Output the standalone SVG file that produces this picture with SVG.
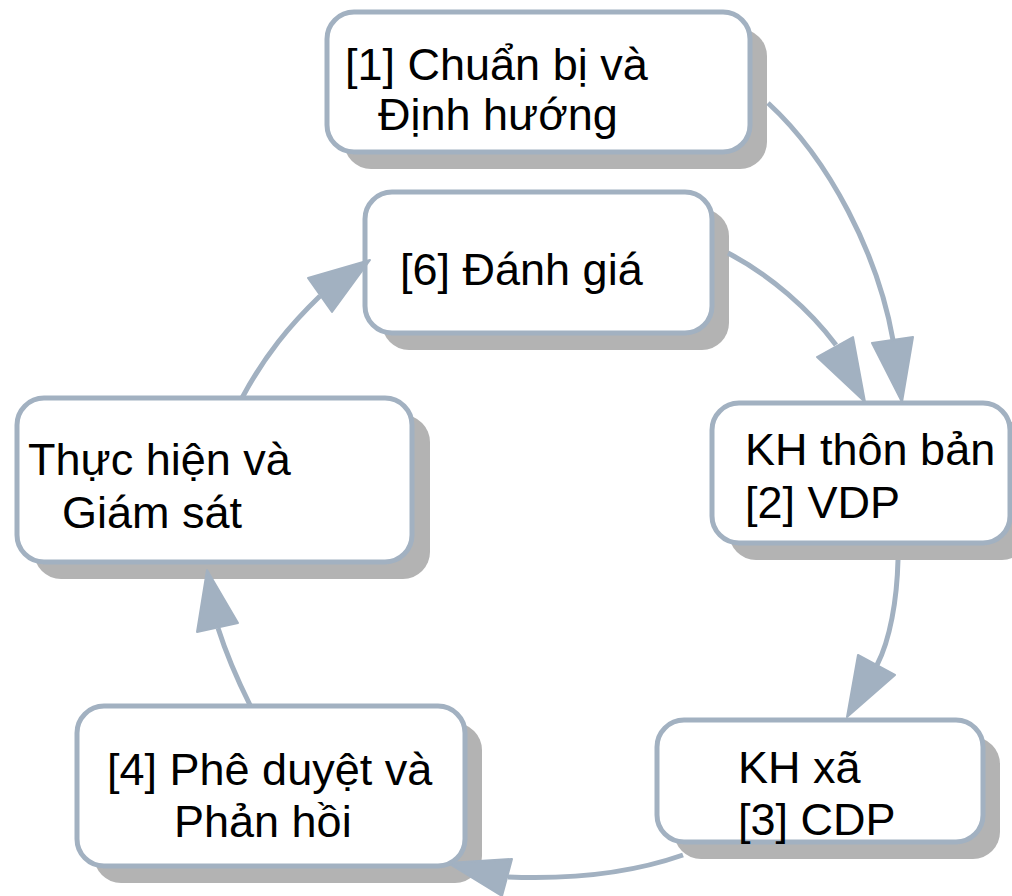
<svg xmlns="http://www.w3.org/2000/svg" width="1012" height="896" viewBox="0 0 1012 896">
<style>
.sh{fill:#b3b3b3;stroke:none}
.bx{fill:#ffffff;stroke:#a2b1c1;stroke-width:5}
.t{font-family:"Liberation Sans",Arial,sans-serif;font-size:45px;fill:#000}
.e{fill:none;stroke:#a2b1c1;stroke-width:5}
.h{fill:#a2b1c1;stroke:#a2b1c1;stroke-width:2;stroke-linejoin:round}
</style>
<rect width="1012" height="896" fill="#ffffff"/>
<g id="shadows">
<rect class="sh" x="344" y="29" width="423" height="140" rx="27"/>
<rect class="sh" x="382" y="209" width="347" height="141" rx="27"/>
<rect class="sh" x="729" y="420" width="300" height="140" rx="27"/>
<rect class="sh" x="674" y="737" width="326" height="122" rx="27"/>
<rect class="sh" x="94" y="723" width="388" height="160" rx="27"/>
<rect class="sh" x="34" y="415" width="396" height="164" rx="27"/>
</g>
<g id="n1">
<rect class="bx" x="327" y="12" width="423" height="140" rx="27"/>
<text class="t" x="345" y="80">[1] Chuẩn bị và</text>
<text class="t" x="378" y="130">Định hướng</text>
</g>
<g id="n6">
<rect class="bx" x="365" y="192" width="347" height="141" rx="27"/>
<text class="t" x="400" y="285">[6] Đánh giá</text>
</g>
<g id="n2">
<rect class="bx" x="712" y="403" width="298" height="140" rx="27"/>
<text class="t" x="745" y="465">KH thôn bản</text>
<text class="t" x="745" y="518">[2] VDP</text>
</g>
<g id="n3">
<rect class="bx" x="657" y="720" width="326" height="122" rx="27"/>
<text class="t" x="738" y="783">KH xã</text>
<text class="t" x="738" y="835">[3] CDP</text>
</g>
<g id="n4">
<rect class="bx" x="77" y="706" width="388" height="160" rx="27"/>
<text class="t" x="107" y="785">[4] Phê duyệt và</text>
<text class="t" x="174" y="837">Phản hồi</text>
</g>
<g id="n5">
<rect class="bx" x="17" y="398" width="395" height="164" rx="27"/>
<text class="t" x="28" y="475">Thực hiện và</text>
<text class="t" x="62" y="528">Giám sát</text>
</g>
<g id="edges">
<path class="e" d="M768,103 C830,160 878,255 893,340"/>
<polygon class="h" points="872,343 913,337 902,402"/>
<path class="e" d="M728,253 C770,275 810,310 836,345"/>
<polygon class="h" points="817,357 853,337 865,402"/>
<path class="e" d="M898,560 C897,600 890,640 877,665"/>
<polygon class="h" points="858,655 895,675 847,717"/>
<path class="e" d="M683,855 C640,870 580,880 508,877"/>
<polygon class="h" points="512,859 502,896 448,863"/>
<path class="e" d="M250,705 C235,675 225,650 218,628"/>
<polygon class="h" points="197,632 238,623 207,570"/>
<path class="e" d="M242,398 C265,355 290,325 320,296"/>
<polygon class="h" points="308,278 332,312 370,260"/>
</g>
</svg>
